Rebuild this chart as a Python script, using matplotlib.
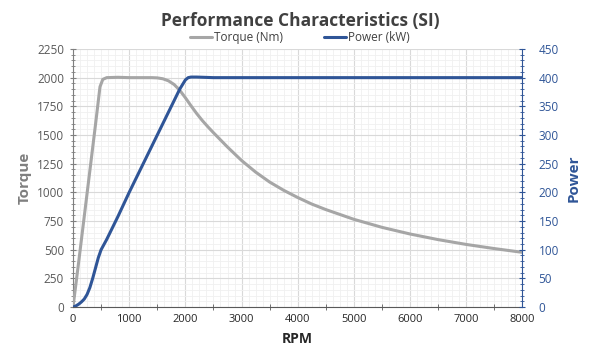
import matplotlib.pyplot as plt
from matplotlib.ticker import MultipleLocator

plt.rcParams['font.family'] = ['Open Sans', 'DejaVu Sans']

# values
rpm_torque = [0, 100, 200, 300, 400, 480, 530, 600, 800, 1000, 1200, 1400, 1500,
              1600, 1700, 1800, 1900, 2000, 2100, 2200, 2300, 2400, 2500, 2600,
              2750, 3000, 3250, 3500, 3750, 4000, 4250, 4500, 5000, 5500, 6000,
              6500, 7000, 7500, 8000]
torque_nm = [0, 390, 790, 1190, 1590, 1920, 1985, 2000, 2003, 2000, 2000, 2000, 1998,
             1990, 1972, 1940, 1890, 1825, 1755, 1688, 1627, 1572, 1520, 1470,
             1395, 1278, 1177, 1090, 1018, 955, 898, 850, 765, 695, 637,
             588, 546, 510, 477]

rpm_power = [0, 50, 100, 150, 200, 250, 300, 350, 400, 450, 500, 600, 800, 1000,
             1200, 1400, 1600, 1800, 1900, 2000, 2050, 2100, 2200, 2500, 3000,
             4000, 5000, 6000, 7000, 8000]
power_kw = [0, 2, 5, 9, 14, 22, 34, 50, 68, 86, 100, 118, 158, 200,
            240, 280, 320, 360, 380, 396, 400, 401, 401, 400, 400,
            400, 400, 400, 400, 400]

torque_col = '#a6a6a6'
power_col = '#2f5597'

fig = plt.figure(figsize=(6, 3.6), dpi=100)
ax = fig.add_axes([0.1217, 0.147, 0.749, 0.717])
ax2 = ax.twinx()

ax.plot(rpm_torque, torque_nm, color=torque_col, lw=2.2, label='Torque (Nm)',
        solid_capstyle='round', solid_joinstyle='round', zorder=3)
ax2.plot(rpm_power, power_kw, color=power_col, lw=2.2, label='Power (kW)',
         solid_capstyle='round', solid_joinstyle='round', zorder=3)

ax.set_xlim(0, 8000)
ax.set_ylim(0, 2250)
ax2.set_ylim(0, 450)

ax.xaxis.set_major_locator(MultipleLocator(1000))
ax.xaxis.set_minor_locator(MultipleLocator(500))
ax.yaxis.set_major_locator(MultipleLocator(250))
ax.yaxis.set_minor_locator(MultipleLocator(50))
ax2.yaxis.set_major_locator(MultipleLocator(50))
ax2.yaxis.set_minor_locator(MultipleLocator(10))

ax.grid(which='major', color='#d9d9d9', lw=0.8)
ax.grid(which='minor', axis='y', color='#f0f0f0', lw=0.6)
ax.set_axisbelow(True)
# light minor vertical grid every 125 rpm
for x in range(0, 8001, 125):
    if x % 1000:
        ax.axvline(x, color='#f0f0f0', lw=0.6, zorder=0)

ax.spines['top'].set_visible(False)
ax2.spines['top'].set_visible(False)
ax.spines['left'].set_color('#7f7f7f')
ax.spines['bottom'].set_color('#595959')
ax.spines['right'].set_visible(False)
ax2.spines['left'].set_visible(False)
ax2.spines['bottom'].set_visible(False)
ax2.spines['right'].set_color(power_col)

ax.tick_params(axis='y', which='both', direction='inout', colors='#7f7f7f',
               labelsize=8.5, labelcolor='#595959', pad=4)
ax.tick_params(axis='y', which='major', length=5)
ax.tick_params(axis='y', which='minor', length=3)
ax.tick_params(axis='x', which='both', direction='inout', color='#595959',
               labelsize=8, labelcolor='#262626', pad=5)
ax.tick_params(axis='x', which='major', length=0)
ax.tick_params(axis='x', which='minor', length=5)
ax2.tick_params(axis='y', which='both', direction='inout', colors=power_col,
                labelsize=8.5, pad=9)
ax2.tick_params(axis='y', which='major', length=5)
ax2.tick_params(axis='y', which='minor', length=3)

ax.set_xlabel('RPM', fontsize=10, fontweight='bold', color='#262626', labelpad=5)
ax.set_ylabel('Torque', fontsize=11, fontweight='bold', color='#7f7f7f', labelpad=4)
ax2.set_ylabel('Power', fontsize=11, fontweight='bold', color=power_col, labelpad=6)

fig.suptitle('Performance Characteristics (SI)', x=0.5, y=0.968, fontsize=12.5,
             fontweight='bold', color='#404040')

h1, l1 = ax.get_legend_handles_labels()
h2, l2 = ax2.get_legend_handles_labels()
fig.legend(h1 + h2, l1 + l2, loc='center', bbox_to_anchor=(0.5, 0.895), ncol=2,
           frameon=False, fontsize=8.5, handlelength=1.8, handletextpad=0.2,
           columnspacing=3.5, labelcolor='#404040')

fig.savefig('out.png', dpi=100)
